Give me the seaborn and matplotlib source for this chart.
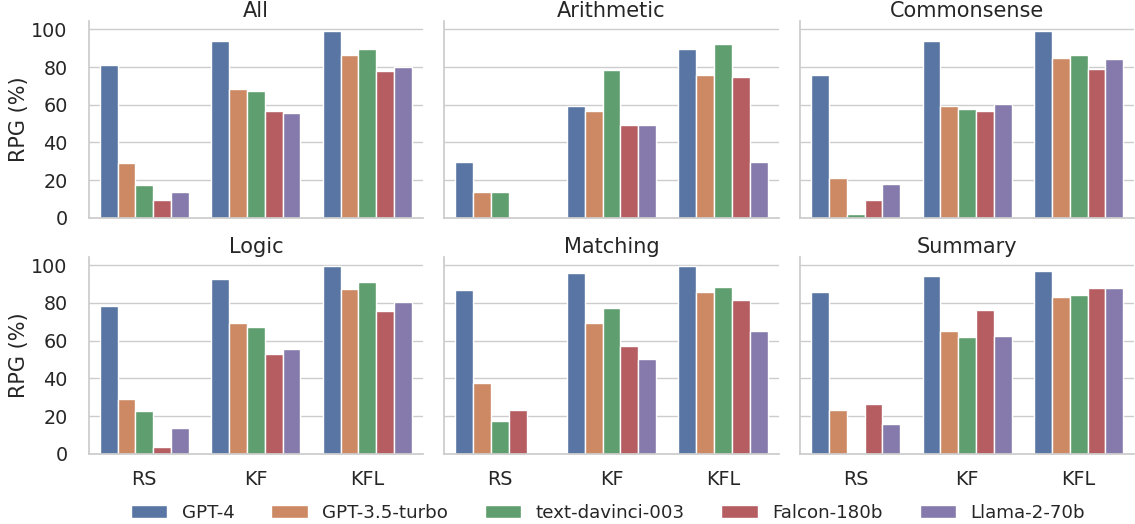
import pandas as pd
import matplotlib
matplotlib.use("Agg")
import matplotlib.pyplot as plt
import seaborn as sns

sns.set_theme(style="whitegrid", font_scale=1.25)

categories = ["All", "Arithmetic", "Commonsense", "Logic", "Matching", "Summary"]
methods = ["RS", "KF", "KFL"]
models = ["GPT-4", "GPT-3.5-turbo", "text-davinci-003", "Falcon-180b", "Llama-2-70b"]

# RPG (%) per category, rows = method (RS, KF, KFL), cols = model order above
all_vals = [[81.1, 28.9, 17.3, 9.3, 13.7],
            [93.6, 68.4, 67.4, 56.5, 55.8],
            [98.9, 86.6, 89.7, 78.1, 80.0]]
arith_vals = [[29.5, 13.9, 13.9, 0.0, 0.0],
              [59.5, 56.7, 78.3, 49.5, 49.5],
              [89.5, 75.8, 92.5, 74.5, 29.5]]
common_vals = [[75.9, 21.2, 1.8, 9.4, 18.2],
               [94.1, 59.5, 57.8, 56.5, 60.2],
               [99.1, 84.7, 86.6, 79.0, 84.5]]
logic_vals = [[78.4, 29.2, 22.6, 3.7, 13.9],
              [92.5, 69.3, 67.2, 52.9, 55.4],
              [99.5, 87.2, 90.9, 75.6, 80.6]]
match_vals = [[87.0, 37.3, 17.6, 23.4, 0.0],
              [95.9, 69.5, 77.5, 57.4, 50.4],
              [99.5, 86.1, 88.6, 81.5, 65.4]]
summary_vals = [[85.9, 23.0, 0.0, 26.4, 16.0],
                [94.5, 65.1, 62.2, 76.5, 62.7],
                [97.0, 83.4, 84.3, 88.1, 87.7]]

values = [all_vals, arith_vals, common_vals, logic_vals, match_vals, summary_vals]

rows = []
for cat, table in zip(categories, values):
    for meth, row in zip(methods, table):
        for mod, v in zip(models, row):
            rows.append({"category": cat, "method": meth, "model": mod, "RPG": v})
df = pd.DataFrame(rows)

g = sns.catplot(data=df, x="method", y="RPG", hue="model", col="category",
                col_wrap=3, kind="bar", order=methods, hue_order=models,
                height=3, aspect=1.2)
g.set_titles("{col_name}", pad=3)
g.set_axis_labels("", "RPG (%)")
g.set(yticks=[0, 20, 40, 60, 80, 100])
for ax in g.axes.flat:
    ax.tick_params(axis="y", pad=9)
    ax.tick_params(axis="x", pad=6)
    ax.yaxis.labelpad = 2
sns.move_legend(g, "center", ncol=5, title=None, frameon=False, fontsize=13.15,
                bbox_to_anchor=(608 / 1135, 0.0216))
g.figure.set_size_inches(11.35, 5.24)
g.figure.subplots_adjust(left=0.078, right=0.9995, bottom=0.134, top=0.96,
                         wspace=0.063, hspace=0.198)

plt.savefig("out.png", dpi=100)
